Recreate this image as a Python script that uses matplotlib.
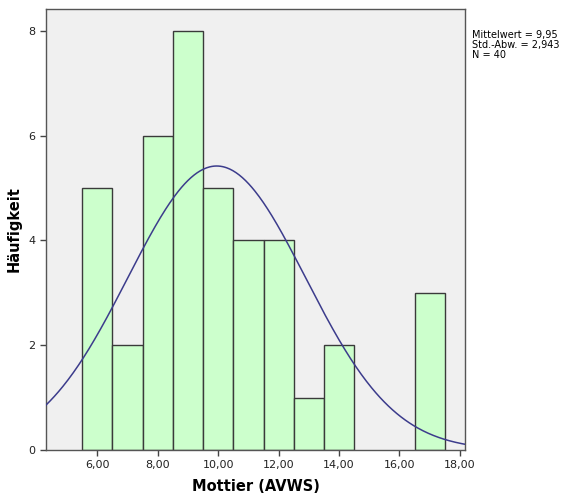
import numpy as np
import matplotlib
matplotlib.use("Agg")
import matplotlib.pyplot as plt

centers = [6, 7, 8, 9, 10, 11, 12, 13, 14, 17]
counts = [5, 2, 6, 8, 5, 4, 4, 1, 2, 3]
mean = 9.95
sd = 2.943
n = 40
xticks = [6, 8, 10, 12, 14, 16, 18]
xticklabels = ["6,00", "8,00", "10,00", "12,00", "14,00", "16,00", "18,00"]
yticks = [0, 2, 4, 6, 8]

plt.rcParams['font.family'] = ['DejaVu Sans']
fig = plt.figure(figsize=(5.73, 5.0), dpi=100)
ax = fig.add_axes([0.0803, 0.1, 0.7312, 0.882])
ax.set_facecolor("#f0f0f0")
ax.bar(centers, counts, width=1.0, color="#ccffcc", edgecolor="#3a3a3a", linewidth=1.0, zorder=2)
xs = np.linspace(4.3, 18.17, 400)
ys = n * 1.0 / (sd * np.sqrt(2 * np.pi)) * np.exp(-0.5 * ((xs - mean) / sd) ** 2)
ax.plot(xs, ys, color="#3c3c8c", linewidth=1.1, zorder=3)
ax.set_xlim(4.3, 18.17)
ax.set_ylim(0, 8.42)
ax.set_xticks(xticks)
ax.set_xticklabels(xticklabels, fontsize=8, color="#222222")
ax.set_yticks(yticks)
ax.set_yticklabels([str(v) for v in yticks], fontsize=8, color="#222222")
ax.tick_params(direction="out", length=4, width=1, color="#444444")
for s in ax.spines.values():
    s.set_color("#555555")
    s.set_linewidth(1.0)
ax.set_xlabel("Mottier (AVWS)", fontsize=10.5, fontweight="bold", labelpad=6)
ax.set_ylabel("Häufigkeit", fontsize=10.5, fontweight="bold", labelpad=5)
fig.text(0.824, 0.94, "Mittelwert = 9,95\nStd.-Abw. = 2,943\nN = 40", fontsize=7,
         va="top", ha="left", linespacing=1.0)
fig.savefig("out.png", dpi=100)
